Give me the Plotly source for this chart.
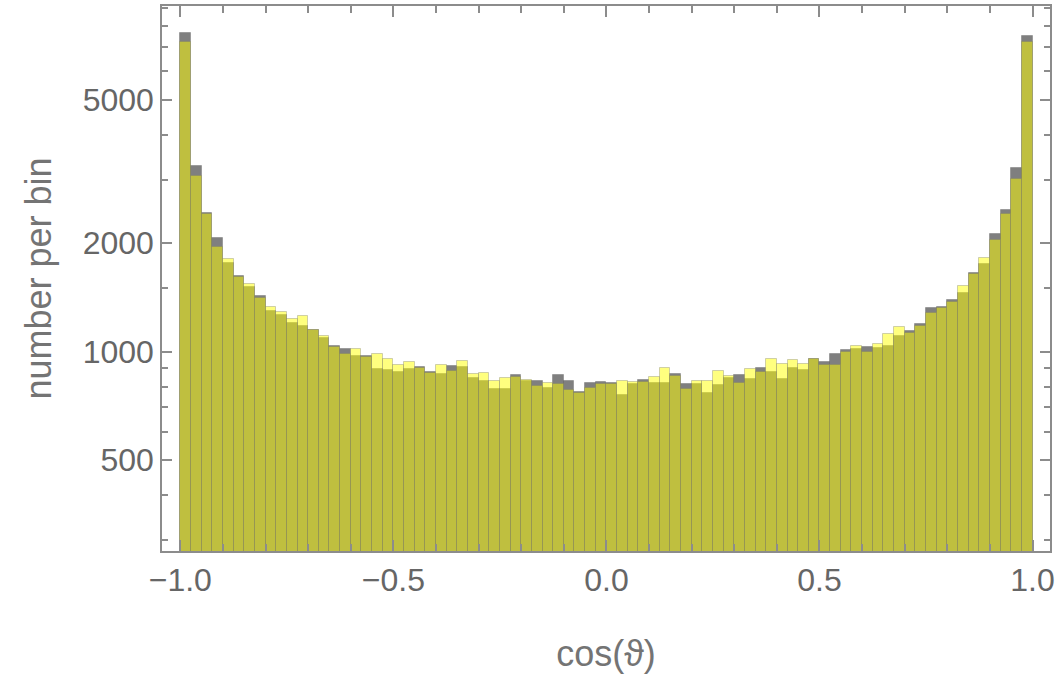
import numpy as np
import plotly.graph_objects as go

# histogram bins: 80 bins of width 0.025 covering cos(theta) in [-1, 1]
bin_lo = -1.0
bin_hi = 1.0
n_bins = 80
bin_width = (bin_hi - bin_lo) / n_bins
bin_centers = [round(bin_lo + bin_width * (i + 0.5), 4) for i in range(n_bins)]

counts_gray = [
    7674, 3271, 2425, 2068, 1768, 1617, 1508, 1430, 1294, 1267,
    1199, 1181, 1150, 1090, 1038, 1019, 970, 970, 893, 887,
    876, 893, 904, 876, 867, 912, 904, 845, 827, 786,
    786, 859, 827, 827, 793, 859, 827, 773, 817, 822,
    817, 757, 813, 833, 817, 817, 865, 812, 813, 766,
    806, 843, 861, 838, 899, 876, 838, 899, 887, 956,
    938, 982, 1008, 1014, 1027, 1021, 1034, 1102, 1144, 1197,
    1325, 1327, 1391, 1458, 1652, 1756, 2126, 2472, 3229, 7529,
]

counts_yellow = [
    7246, 3069, 2414, 1953, 1813, 1611, 1541, 1406, 1333, 1289,
    1233, 1253, 1147, 1104, 1032, 984, 1019, 964, 982, 952,
    920, 938, 900, 870, 918, 883, 944, 867, 870, 827,
    843, 849, 833, 801, 818, 812, 781, 770, 793, 813,
    813, 827, 822, 824, 849, 899, 858, 786, 827, 827,
    882, 858, 817, 893, 876, 952, 923, 946, 923, 952,
    916, 916, 997, 1038, 997, 1052, 1116, 1167, 1123, 1181,
    1283, 1322, 1376, 1519, 1642, 1818, 2042, 2414, 3017, 7246,
]

x_ticks = [-1.0, -0.5, 0.0, 0.5, 1.0]
x_ticktext = ["\u22121.0", "\u22120.5", "0.0", "0.5", "1.0"]
x_minor = [-0.9, -0.8, -0.7, -0.6, -0.4, -0.3, -0.2, -0.1,
           0.1, 0.2, 0.3, 0.4, 0.6, 0.7, 0.8, 0.9]
y_ticks = [500, 1000, 2000, 5000]
y_minor = [300, 400, 600, 700, 800, 900, 1500, 3000, 4000, 6000, 7000, 8000, 9000]

FONT = "Liberation Sans, Arial, sans-serif"
LABEL = "#666666"
TITLE = "#747474"
FRAME = "#8c8c8c"

fig = go.Figure()
fig.add_trace(go.Bar(
    x=bin_centers, y=counts_gray, width=bin_width,
    marker=dict(color="rgba(0,0,0,0.5)",
                line=dict(color="rgba(110,110,110,0.45)", width=1)),
    name="gray", showlegend=False,
))
fig.add_trace(go.Bar(
    x=bin_centers, y=counts_yellow, width=bin_width,
    marker=dict(color="rgba(255,255,0,0.5)",
                line=dict(color="rgba(120,120,110,0.35)", width=1)),
    name="yellow", showlegend=False,
))

fig.update_layout(
    width=1059, height=675,
    margin=dict(l=162, r=9, t=4, b=124),
    barmode="overlay", bargap=0,
    paper_bgcolor="white", plot_bgcolor="white",
    font=dict(family=FONT, color=LABEL, size=28),
)
fig.update_xaxes(
    range=[-1.043, 1.041],
    tickmode="array", tickvals=x_ticks, ticktext=x_ticktext,
    ticks="inside", ticklen=11, tickwidth=1.5, tickcolor=FRAME,
    minor=dict(tickmode="array", tickvals=x_minor, ticks="inside",
               ticklen=7, tickwidth=1.5, tickcolor=FRAME),
    showline=True, linecolor=FRAME, linewidth=1.5, mirror="ticks",
    showgrid=False, zeroline=False,
    tickfont=dict(size=32, color=LABEL, family=FONT),
    title=dict(text="cos(\u03d1)", font=dict(size=36, color=TITLE, family=FONT), standoff=44),
)
fig.update_yaxes(
    type="log", range=[2.4464, 3.9597],
    tickmode="array", tickvals=y_ticks, ticktext=[str(v) for v in y_ticks],
    ticks="inside", ticklen=10, tickwidth=1.5, tickcolor=FRAME,
    minor=dict(tickmode="array", tickvals=y_minor, ticks="inside",
               ticklen=6, tickwidth=1.5, tickcolor=FRAME),
    showline=True, linecolor=FRAME, linewidth=1.5, mirror="ticks",
    showgrid=False, zeroline=False,
    tickfont=dict(size=32, color=LABEL, family=FONT),
    title=dict(text="number per bin", font=dict(size=36, color=TITLE, family=FONT), standoff=20),
)

fig.write_html("out.html")
